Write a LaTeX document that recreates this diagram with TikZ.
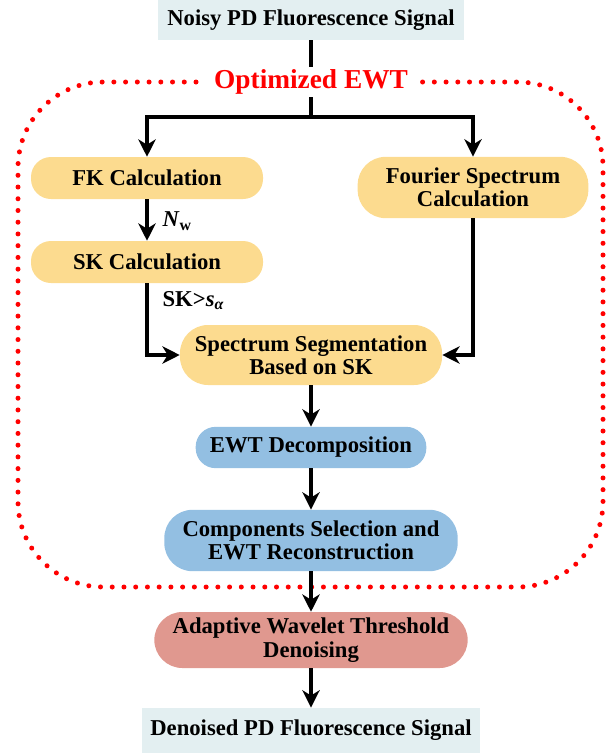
\documentclass[tikz,border=0pt]{standalone}
\usepackage{fontspec}
\setmainfont{Liberation Serif}
\usetikzlibrary{arrows.meta}
\definecolor{sigfill}{HTML}{E3EFF1}
\definecolor{skfill}{HTML}{FCDB8F}
\definecolor{ewtfill}{HTML}{93BFE2}
\definecolor{denfill}{HTML}{E0988F}
\tikzset{
	box/.style={rounded corners=15pt, align=center, inner sep=0pt,
		font=\fontsize{17}{17.5}\selectfont\bfseries},
	tallbox/.style={box, rounded corners=21pt},
	sigbox/.style={box, rounded corners=0pt, fill=sigfill},
	lbl/.style={font=\fontsize{17}{19}\selectfont\bfseries, inner sep=0pt},
	flow/.style={line width=3.4pt, -{Stealth[length=13pt,width=13pt,inset=4pt]}},
	link/.style={line width=3.4pt},
}
\begin{document}
\begin{tikzpicture}[x=0.75pt, y=-0.75pt, line join=miter]
	\useasboundingbox (0,0) rectangle (616,753);
	% nhóm Optimized EWT
	\draw[red, line width=3.75pt, line cap=round, dash pattern=on 0pt off 8.8pt, rounded corners=64pt]
	(196,82) -| (18,587) -| (603,82) -- (421,82);
	\path
	(311,20) node[sigbox, minimum width=229pt, minimum height=30pt] (noisy) {Noisy PD Fluorescence Signal}
	(311,82) node[red, font=\fontsize{20.5}{22}\selectfont\bfseries, inner sep=2pt] (title) {Optimized EWT}
	(311,117) coordinate (split)
	(147,178) node[box, fill=skfill, minimum width=174pt, minimum height=31.5pt] (fk) {FK Calculation}
	(473,187.5) node[tallbox, fill=skfill, minimum width=173pt, minimum height=46pt] (fourier) {Fourier Spectrum\\Calculation}
	(147,262) node[box, fill=skfill, minimum width=174pt, minimum height=31.5pt] (sk) {SK Calculation}
	(311,355) node[tallbox, fill=skfill, minimum width=196.5pt, minimum height=45pt] (spec) {Spectrum Segmentation\\Based on SK}
	(311,447.5) node[box, fill=ewtfill, minimum width=173pt, minimum height=31pt] (ewtd) {EWT Decomposition}
	(311,540.5) node[tallbox, fill=ewtfill, minimum width=220pt, minimum height=46pt] (ewtr) {Components Selection and\\EWT Reconstruction}
	(311,640) node[tallbox, fill=denfill, minimum width=235pt, minimum height=42pt] (awt) {Adaptive Wavelet Threshold\\Denoising}
	(311,730.5) node[sigbox, minimum width=254pt, minimum height=34pt] (denoised) {Denoised PD Fluorescence Signal}
	;
	\draw[link] (noisy) -- (title);
	\draw[link] (title) -- (split);
	\draw[flow] (split) -| (fk);
	\draw[flow] (split) -| (fourier);
	\draw[flow] (fk) -- node[lbl, right=10pt, yshift=-1pt] (nw) {\textit{N}\textsubscript{w}} (sk);
	\draw[flow] (sk) |- node[lbl, right=10pt, pos=0.12] (thr) {SK>\textit{s}\textsubscript{\textit{α}}} (spec);
	\draw[flow] (fourier) |- (spec);
	\draw[flow] (spec) -- (ewtd);
	\draw[flow] (ewtd) -- (ewtr);
	\draw[flow] (ewtr) -- (awt);
	\draw[flow] (awt) -- (denoised);
\end{tikzpicture}
\end{document}
